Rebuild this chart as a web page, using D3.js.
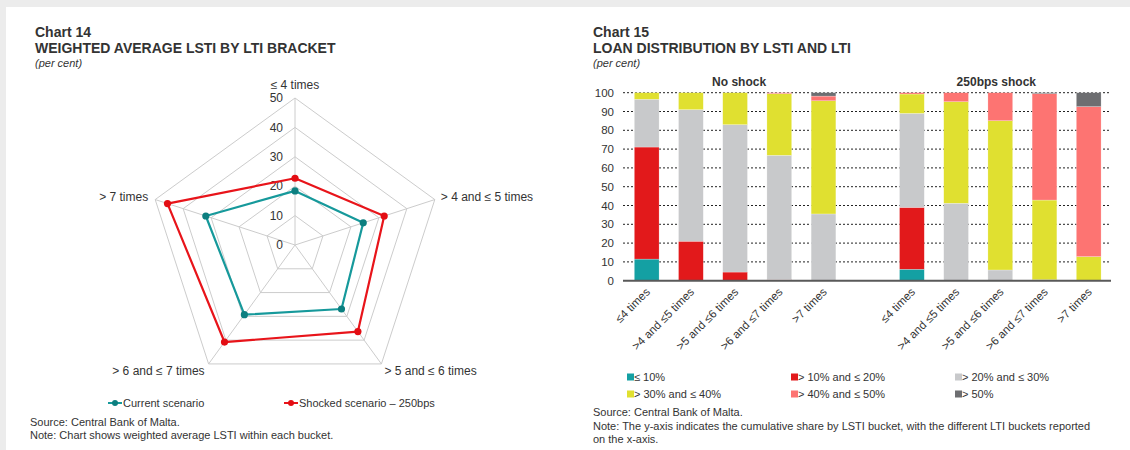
<!DOCTYPE html>
<html>
<head>
<meta charset="utf-8">
<script src="https://cdn.jsdelivr.net/npm/d3@7"></script>
<style>
  html, body { margin: 0; padding: 0; background: #fff; }
  svg { display: block; font-family: "Liberation Sans", Arial, sans-serif; }
  text { fill: #333; }
</style>
</head>
<body>
<svg id="chart" width="1130" height="450"></svg>
<script>
// ---- Chart 14: weighted average LSTI by LTI bracket (radar) ----
const radarCategories = ["≤ 4 times", "> 4 and ≤ 5 times", "> 5 and ≤ 6 times", "> 6 and ≤ 7 times", "> 7 times"];
const currentScenario = [18.4, 24.4, 26.9, 29.3, 31.9];
const shockedScenario = [22.7, 31.9, 36.4, 40.8, 45.6];
const radarTicks = [0, 10, 20, 30, 40, 50];

// ---- Chart 15: loan distribution by LSTI and LTI (stacked bars) ----
const ltiBuckets = ["≤4 times", ">4 and ≤5 times", ">5 and ≤6 times", ">6 and ≤7 times", ">7 times"];
const lstiBuckets = ["≤ 10%", "> 10% and ≤ 20%", "> 20% and ≤ 30%", "> 30% and ≤ 40%", "> 40% and ≤ 50%", "> 50%"];
const lstiColors = ["#14a0a3", "#e2191b", "#c8c9cb", "#e0e030", "#fd7472", "#6d6e71"];
const scenarioGroups = ["No shock", "250bps shock"];

const noShockLe10   = [11.5, 0, 0, 0, 0];
const noShock10to20 = [59.6, 21.0, 4.6, 0.5, 0];
const noShock20to30 = [25.4, 70.0, 78.4, 66.2, 35.5];
const noShock30to40 = [3.5, 9.0, 17.0, 32.8, 60.2];
const noShock40to50 = [0, 0, 0, 0.5, 2.5];
const noShockOver50 = [0, 0, 0, 0, 1.8];

const shockLe10   = [6.1, 0, 0, 0, 0];
const shock10to20 = [32.9, 0, 0, 0, 0];
const shock20to30 = [50.0, 41.2, 5.7, 0.5, 0];
const shock30to40 = [10.3, 54.0, 79.4, 42.4, 12.8];
const shock40to50 = [0.7, 4.8, 14.9, 56.6, 79.8];
const shockOver50 = [0, 0, 0, 0.5, 7.4];

const yTicks = [0, 10, 20, 30, 40, 50, 60, 70, 80, 90, 100];

const svg = d3.select("#chart");

// page frame
svg.append("rect").attr("x", 0).attr("y", 0).attr("width", 1130).attr("height", 7).attr("fill", "#ececec");
svg.append("rect").attr("x", 0).attr("y", 0).attr("width", 6).attr("height", 450).attr("fill", "#ececec");

// titles
function titleBlock(x, num, title) {
  svg.append("text").attr("x", x).attr("y", 37).attr("font-size", 14).attr("font-weight", "bold").attr("fill", "#111").text(num);
  svg.append("text").attr("x", x).attr("y", 53).attr("font-size", 14).attr("font-weight", "bold").attr("fill", "#111").text(title);
  svg.append("text").attr("x", x).attr("y", 67).attr("font-size", 11).attr("font-style", "italic").text("(per cent)");
}
titleBlock(35, "Chart 14", "WEIGHTED AVERAGE LSTI BY LTI BRACKET");
titleBlock(593, "Chart 15", "LOAN DISTRIBUTION BY LSTI AND LTI");

// ================= Radar =================
const cx = 295, cy = 245;
const r = d3.scaleLinear().domain([0, 50]).range([0, 147]);
const angle = i => -Math.PI / 2 + i * 2 * Math.PI / radarCategories.length;
const pt = (i, v) => [cx + r(v) * Math.cos(angle(i)), cy + r(v) * Math.sin(angle(i))];

const radar = svg.append("g");
// grid rings
radarTicks.filter(t => t > 0).forEach(t => {
  radar.append("path")
    .attr("d", d3.line()(radarCategories.map((_, i) => pt(i, t))) + "Z")
    .attr("fill", "none").attr("stroke", "#cccccc").attr("stroke-width", 1);
});
// spokes
radarCategories.forEach((_, i) => {
  const [x, y] = pt(i, 50);
  radar.append("line").attr("x1", cx).attr("y1", cy).attr("x2", x).attr("y2", y)
    .attr("stroke", "#cccccc").attr("stroke-width", 1);
});
// tick labels
radarTicks.forEach(t => {
  radar.append("text").attr("x", cx - 12).attr("y", cy - r(t)).attr("dy", "0.35em")
    .attr("text-anchor", "end").attr("font-size", 12).attr("fill", "#404040").text(t);
});
// category labels
const labelOffsets = [
  { dx: 0, dy: -13, anchor: "middle" },
  { dx: 6, dy: -3, anchor: "start" },
  { dx: 3, dy: 7, anchor: "start" },
  { dx: -4, dy: 7, anchor: "end" },
  { dx: -7, dy: -3, anchor: "end" }
];
radarCategories.forEach((c, i) => {
  const [x, y] = pt(i, 50);
  const o = labelOffsets[i];
  radar.append("text").attr("x", x + o.dx).attr("y", y + o.dy).attr("dy", "0.35em")
    .attr("text-anchor", o.anchor).attr("font-size", 12).text(c);
});
// series
const radarSeries = [
  { name: "Current scenario", values: currentScenario, line: "#16999b", dot: "#0c7f80" },
  { name: "Shocked scenario – 250bps", values: shockedScenario, line: "#e8141a", dot: "#e30d13" }
];
radarSeries.forEach(s => {
  const pts = s.values.map((v, i) => pt(i, v));
  radar.append("path").attr("d", d3.line()(pts) + "Z")
    .attr("fill", "none").attr("stroke", s.line).attr("stroke-width", 2.2).attr("stroke-linejoin", "round");
  radar.selectAll(null).data(pts).join("circle")
    .attr("cx", d => d[0]).attr("cy", d => d[1]).attr("r", 3.6).attr("fill", s.dot);
});
// radar legend
const legX = [108, 284];
radarSeries.forEach((s, k) => {
  const g = svg.append("g").attr("transform", `translate(${legX[k]},403)`);
  g.append("line").attr("x1", 0).attr("x2", 14).attr("y1", 0).attr("y2", 0).attr("stroke", s.line).attr("stroke-width", 2);
  g.append("circle").attr("cx", 7).attr("cy", 0).attr("r", 3).attr("fill", s.dot);
  g.append("text").attr("x", 15).attr("y", 0).attr("dy", "0.35em").attr("font-size", 11).text(s.name);
});
svg.append("text").attr("x", 30).attr("y", 422).attr("dy", "0.35em").attr("font-size", 11).text("Source: Central Bank of Malta.");
svg.append("text").attr("x", 30).attr("y", 435).attr("dy", "0.35em").attr("font-size", 11).text("Note: Chart shows weighted average LSTI within each bucket.");

// ================= Stacked bars =================
const noShockSeries = [noShockLe10, noShock10to20, noShock20to30, noShock30to40, noShock40to50, noShockOver50];
const shockSeries = [shockLe10, shock10to20, shock20to30, shock30to40, shock40to50, shockOver50];

const rows = [];
[noShockSeries, shockSeries].forEach((series, g) => {
  ltiBuckets.forEach((lti, j) => {
    const row = { key: g + "-" + j, label: lti, group: g };
    lstiBuckets.forEach((b, k) => { row[b] = series[k][j]; });
    rows.push(row);
  });
});
const xDomain = [...rows.slice(0, 5).map(d => d.key), "gap", ...rows.slice(5).map(d => d.key)];

const x = d3.scaleBand().domain(xDomain).range([624.6, 1110.8]).paddingInner(0.44).paddingOuter(0.22);
const y = d3.scaleLinear().domain([0, 100]).range([280.7, 92.7]);

const bars = svg.append("g");
// dotted gridlines
yTicks.filter(t => t > 0).forEach(t => {
  bars.append("line").attr("x1", 623).attr("x2", 1111).attr("y1", y(t)).attr("y2", y(t))
    .attr("stroke", "#222").attr("stroke-width", 1).attr("stroke-dasharray", "2,2");
});
// y axis labels
const yAxis = bars.append("g").attr("transform", "translate(623,0)")
  .call(d3.axisLeft(y).tickValues(yTicks).tickSize(0).tickPadding(9));
yAxis.select(".domain").remove();
yAxis.selectAll("text").attr("font-size", 11.5).attr("font-family", "Liberation Sans, Arial, sans-serif").attr("fill", "#333");

const stacked = d3.stack().keys(lstiBuckets)(rows);
stacked.forEach((layer, k) => {
  bars.append("g").attr("fill", lstiColors[k])
    .selectAll("rect").data(layer.filter(d => d[1] - d[0] > 0)).join("rect")
    .attr("x", d => x(d.data.key)).attr("width", x.bandwidth())
    .attr("y", d => y(d[1])).attr("height", d => y(d[0]) - y(d[1]))
    .attr("stroke", "#ffffff").attr("stroke-width", 0.4).attr("stroke-opacity", 0.6);
});
// baseline
bars.append("line").attr("x1", 623).attr("x2", 1111).attr("y1", y(0)).attr("y2", y(0))
  .attr("stroke", "#595959").attr("stroke-width", 2);

// x labels
const xAxis = bars.append("g").attr("transform", `translate(0,${y(0)})`)
  .call(d3.axisBottom(x).tickValues(rows.map(d => d.key)).tickSize(0).tickFormat(k => rows.find(d => d.key === k).label));
xAxis.select(".domain").remove();
xAxis.selectAll("text")
  .attr("font-size", 11.5).attr("font-family", "Liberation Sans, Arial, sans-serif").attr("fill", "#333")
  .attr("text-anchor", "end").attr("dy", null).attr("y", 0)
  .attr("transform", "translate(4,12) rotate(-45)");

// group titles
scenarioGroups.forEach((name, g) => {
  const keys = rows.filter(d => d.group === g).map(d => x(d.key) + x.bandwidth() / 2);
  const mid = (keys[0] + keys[keys.length - 1]) / 2 + (g === 0 ? 4 : -4);
  bars.append("text").attr("x", mid).attr("y", 82).attr("dy", "0.35em").attr("text-anchor", "middle")
    .attr("font-size", 12).attr("font-weight", "bold").text(name);
});

// legend
const legCols = [627, 791, 955], legRows = [377, 394];
lstiBuckets.forEach((b, k) => {
  const g = svg.append("g").attr("transform", `translate(${legCols[k % 3]},${legRows[Math.floor(k / 3)]})`);
  g.append("rect").attr("x", 0).attr("y", -3.5).attr("width", 7).attr("height", 7).attr("fill", lstiColors[k]);
  g.append("text").attr("x", 7).attr("y", 0).attr("dy", "0.35em").attr("font-size", 11).text(b);
});

svg.append("text").attr("x", 593).attr("y", 412).attr("dy", "0.35em").attr("font-size", 11).text("Source: Central Bank of Malta.");
svg.append("text").attr("x", 593).attr("y", 426).attr("dy", "0.35em").attr("font-size", 11)
  .text("Note: The y-axis indicates the cumulative share by LSTI bucket, with the different LTI buckets reported");
svg.append("text").attr("x", 593).attr("y", 439).attr("dy", "0.35em").attr("font-size", 11).text("on the x-axis.");
</script>
</body>
</html>
